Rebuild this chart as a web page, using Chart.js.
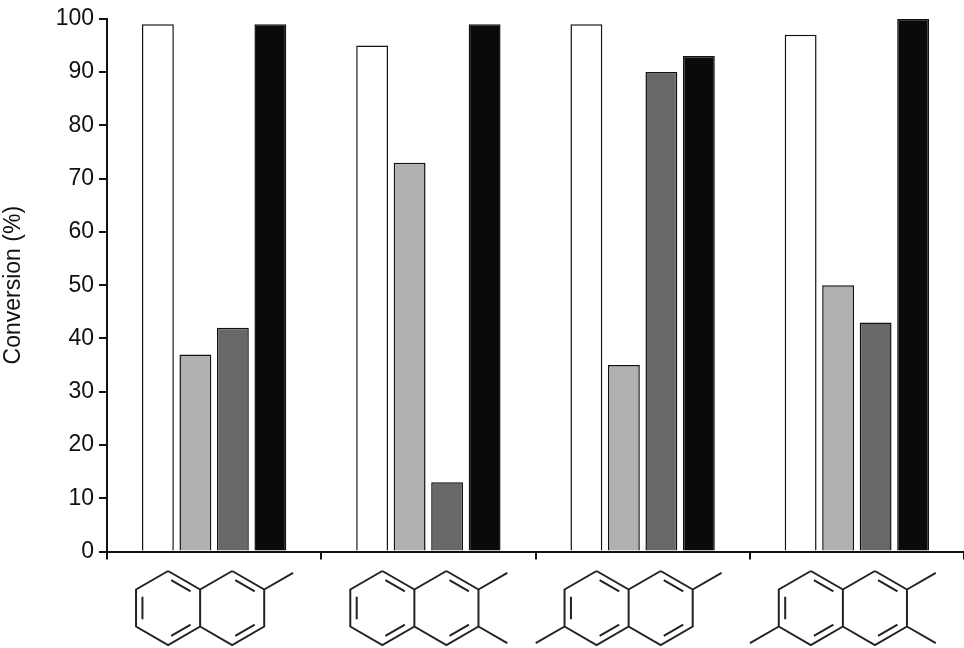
<!DOCTYPE html>
<html>
<head>
<meta charset="utf-8">
<script src="https://cdn.jsdelivr.net/npm/chart.js@4.4.0/dist/chart.umd.min.js"></script>
<style>
  html, body { margin: 0; padding: 0; background: #fff; }
  #wrap { width: 964px; height: 648px; }
</style>
</head>
<body>
<div id="wrap"><canvas id="barChart"></canvas></div>
<script>
let categories = ["2-methylnaphthalene", "2,3-dimethylnaphthalene", "2,6-dimethylnaphthalene", "2,3,6-trimethylnaphthalene"];
let seriesA = [99, 95, 99, 97];
let seriesB = [37, 73, 35, 50];
let seriesC = [42, 13, 90, 43];
let seriesD = [99, 99, 93, 100];
let yTicks = [0, 10, 20, 30, 40, 50, 60, 70, 80, 90, 100];
// methyl positions per molecule: tr = right ring top-right, br = right ring bottom-right, bl = left ring bottom-left
let methyls = [["tr"], ["tr", "br"], ["tr", "bl"], ["tr", "br", "bl"]];

function hexPoints(cx, cy, s) {
  let pts = [];
  for (let i = 0; i < 6; i++) {
    let a = (-90 + 60 * i) * Math.PI / 180;
    pts.push([cx + s * Math.cos(a), cy + s * Math.sin(a)]);
  }
  return pts; // 0 top, 1 top-right, 2 bottom-right, 3 bottom, 4 bottom-left, 5 top-left
}

function innerLine(ctx, p, q, c, off, shrink) {
  let mx = c[0], my = c[1];
  let ax = p[0] + (mx - p[0]) * off, ay = p[1] + (my - p[1]) * off;
  let bx = q[0] + (mx - q[0]) * off, by = q[1] + (my - q[1]) * off;
  let dx = bx - ax, dy = by - ay;
  ctx.moveTo(ax + dx * shrink, ay + dy * shrink);
  ctx.lineTo(bx - dx * shrink, by - dy * shrink);
}

function drawMolecule(ctx, cx, cy, s, subs) {
  let h = s * Math.sqrt(3) / 2;
  let lc = [cx - h, cy], rc = [cx + h, cy];
  let L = hexPoints(lc[0], lc[1], s), R = hexPoints(rc[0], rc[1], s);
  ctx.beginPath();
  for (let ring of [L, R]) {
    ctx.moveTo(ring[0][0], ring[0][1]);
    for (let i = 1; i <= 6; i++) ctx.lineTo(ring[i % 6][0], ring[i % 6][1]);
  }
  // double bonds
  innerLine(ctx, L[4], L[5], lc, 0.2, 0.12);
  innerLine(ctx, L[0], L[1], lc, 0.2, 0.12);
  innerLine(ctx, L[2], L[3], lc, 0.2, 0.12);
  innerLine(ctx, R[0], R[1], rc, 0.2, 0.12);
  innerLine(ctx, R[2], R[3], rc, 0.2, 0.12);
  let len = s * 0.9;
  for (let m of subs) {
    let p, ang;
    if (m === "tr") { p = R[1]; ang = -30; }
    if (m === "br") { p = R[2]; ang = 30; }
    if (m === "bl") { p = L[4]; ang = 150; }
    let a = ang * Math.PI / 180;
    ctx.moveTo(p[0], p[1]);
    ctx.lineTo(p[0] + len * Math.cos(a), p[1] + len * Math.sin(a));
  }
  ctx.stroke();
}

let moleculePlugin = {
  id: "molecules",
  afterDraw(chart) {
    let ctx = chart.ctx, x = chart.scales.x;
    ctx.save();
    ctx.strokeStyle = "#222";
    ctx.lineWidth = 2;
    categories.forEach((c, i) => {
      drawMolecule(ctx, x.getPixelForValue(i) - 14, 608, 37, methyls[i]);
    });
    ctx.restore();
  }
};

function makeSet(label, data, color) {
  return {
    label: label,
    data: data,
    backgroundColor: color,
    borderColor: "#111",
    borderWidth: 1.5,
    categoryPercentage: 0.7,
    barPercentage: 0.85,
  };
}

new Chart(document.getElementById("barChart"), {
  type: "bar",
  data: {
    labels: categories,
    datasets: [
      makeSet("A", seriesA, "#ffffff"),
      makeSet("B", seriesB, "#b0b0b0"),
      makeSet("C", seriesC, "#686868"),
      makeSet("D", seriesD, "#0a0a0a"),
    ],
  },
  options: {
    responsive: true,
    maintainAspectRatio: false,
    animation: false,
    layout: { padding: { top: 2, right: 0, bottom: 74, left: 0 } },
    plugins: { legend: { display: false }, tooltip: { enabled: false } },
    scales: {
      x: {
        border: { color: "#111", width: 2 },
        grid: { offset: true, drawOnChartArea: false, drawTicks: true, tickLength: 8, color: "#111", lineWidth: 2 },
        ticks: { callback: () => "", padding: 0 },
      },
      y: {
        min: 0,
        max: 100,
        afterBuildTicks: (axis) => { axis.ticks = yTicks.map((v) => ({ value: v })); },
        afterFit: (axis) => { axis.width = 107; },
        border: { color: "#111", width: 2 },
        grid: { drawOnChartArea: false, drawTicks: true, tickLength: 8, color: "#111", lineWidth: 2 },
        ticks: { color: "#111", font: { family: "Liberation Sans", size: 23 }, padding: 5 },
        title: { display: true, text: "Conversion (%)", color: "#111", font: { family: "Liberation Sans", size: 23 }, padding: 0 },
      },
    },
  },
  plugins: [moleculePlugin],
});
</script>
</body>
</html>
